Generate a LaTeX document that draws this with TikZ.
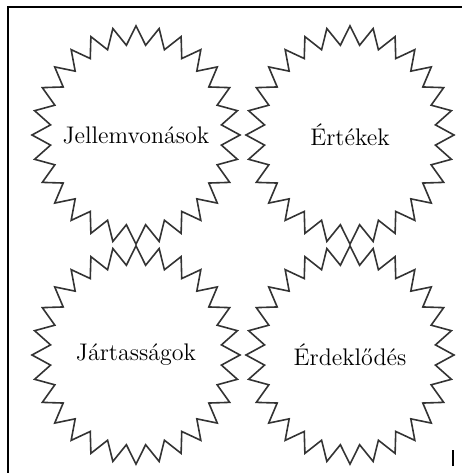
\documentclass[tikz,border=0pt]{standalone}
\usepackage{fontspec}
\usepackage{tikz}
\tikzset{
    keret/.style={draw=black, line width=0.8pt},
    csillag/.style={draw=black!80, line width=0.8pt, line join=miter},
    cimke/.style={font=\fontsize{12}{14}\selectfont, inner sep=0pt}
}

\begin{document}
\begin{tikzpicture}[x=0.5pt, y=0.5pt]
    \useasboundingbox (0,0) rectangle (462,473);
    \draw[keret] (8,0) -- (8,466) -- (462,466);
    \draw[keret] (453,7) -- (453,23);
    \foreach \nev/\x/\y/\szoveg in {jell/136/338/Jellemvonások, ert/350/338/Értékek,
                                    jart/136/118/Jártasságok, erd/350/118/Érdeklődés} {
        \node[cimke] (\nev) at (\x,\y) {\szoveg};
        % csucsok felvaltva kulso es belso sugaron
        \draw[csillag, shift={(\x,\y)}, yscale=1.05] plot[samples=56, domain=0:55, variable=\k]
            ({90+\k*45/7}:{ifthenelse(mod(\k,2)==0,104,86)}) -- cycle;
    }
\end{tikzpicture}
\end{document}
